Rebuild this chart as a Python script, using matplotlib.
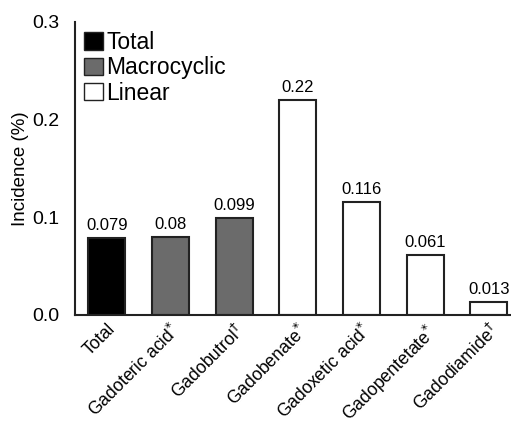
import matplotlib
matplotlib.use('Agg')
import matplotlib.pyplot as plt
from matplotlib.patches import Patch

plt.rcParams['font.family'] = ['Liberation Sans', 'DejaVu Sans']

agents = ['Total', r'Gadoteric acid$^{*}$', r'Gadobutrol$^{\dagger}$', r'Gadobenate$^{*}$',
          r'Gadoxetic acid$^{*}$', r'Gadopentetate$^{*}$', r'Gadodiamide$^{\dagger}$']
incidence = [0.079, 0.08, 0.099, 0.22, 0.116, 0.061, 0.013]
value_labels = ['0.079', '0.08', '0.099', '0.22', '0.116', '0.061', '0.013']
groups = ['Total', 'Macrocyclic', 'Macrocyclic', 'Linear', 'Linear', 'Linear', 'Linear']

COLORS = {'Total': '#000000', 'Macrocyclic': '#6b6b6b', 'Linear': '#ffffff'}

fig = plt.figure(figsize=(5.11, 4.29), dpi=100)
ax = fig.add_axes([0.147, 0.266, 0.853, 0.683])

x = range(len(agents))
ax.bar(x, incidence, width=0.58, color=[COLORS[g] for g in groups],
       edgecolor='#222222', linewidth=1.5, zorder=2)

for i, (v, lab) in enumerate(zip(incidence, value_labels)):
    ax.text(i, v + 0.005, lab, ha='center', va='bottom', fontsize=12)

ax.set_xlim(-0.5, 6.35)
ax.set_ylim(0, 0.3)
ax.set_yticks([0.0, 0.1, 0.2, 0.3])
ax.set_yticklabels(['0.0', '0.1', '0.2', '0.3'], fontsize=14)
ax.tick_params(axis='y', length=0, pad=11)
ax.tick_params(axis='x', length=0, pad=4)
ax.set_xticks(list(x))
ax.set_xticklabels(agents, rotation=45, ha='right', rotation_mode='anchor', fontsize=12.7)
ax.set_ylabel('Incidence (%)', fontsize=13.5, labelpad=3)

ax.spines[['top', 'right']].set_visible(False)
ax.spines[['left', 'bottom']].set_linewidth(1.5)
ax.spines[['left', 'bottom']].set_color('#222222')

handles = [Patch(facecolor=COLORS[k], edgecolor='#222222', linewidth=1.0) for k in COLORS]
ax.legend(handles, list(COLORS), loc='upper left', bbox_to_anchor=(0.0, 1.0),
          frameon=False, fontsize=16.5, handlelength=0.8, handleheight=0.8,
          handletextpad=0.15, labelspacing=0.1, borderaxespad=0.05, borderpad=0.35)

plt.savefig('out.png', dpi=100, facecolor='white')
plt.close()
